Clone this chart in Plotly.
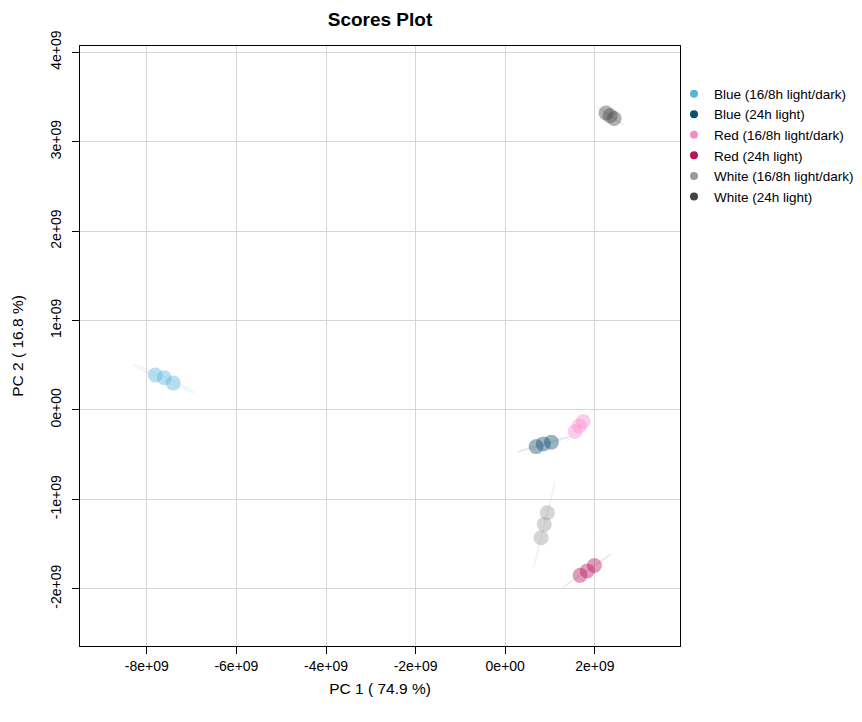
import numpy as np
import plotly.graph_objects as go

groups = ["Blue (16/8h light/dark)", "Blue (24h light)", "Red (16/8h light/dark)",
          "Red (24h light)", "White (16/8h light/dark)", "White (24h light)"]
colors = ["#5AB4DC", "#0E4F6E", "#F78CCB", "#B4155E", "#9A9A9A", "#444444"]

pc1_blue_ld = [-7.81e9, -7.61e9, -7.41e9]
pc2_blue_ld = [0.39e9, 0.36e9, 0.30e9]
pc1_blue_24 = [0.69e9, 0.85e9, 1.03e9]
pc2_blue_24 = [-0.41e9, -0.38e9, -0.36e9]
pc1_red_ld = [1.56e9, 1.65e9, 1.74e9]
pc2_red_ld = [-0.24e9, -0.18e9, -0.13e9]
pc1_red_24 = [1.67e9, 1.83e9, 1.99e9]
pc2_red_24 = [-1.85e9, -1.80e9, -1.74e9]
pc1_white_ld = [0.94e9, 0.87e9, 0.80e9]
pc2_white_ld = [-1.15e9, -1.28e9, -1.43e9]
pc1_white_24 = [2.25e9, 2.34e9, 2.43e9]
pc2_white_24 = [3.32e9, 3.29e9, 3.26e9]

pc1 = [pc1_blue_ld, pc1_blue_24, pc1_red_ld, pc1_red_24, pc1_white_ld, pc1_white_24]
pc2 = [pc2_blue_ld, pc2_blue_24, pc2_red_ld, pc2_red_24, pc2_white_ld, pc2_white_24]

x_ticks = [-8e9, -6e9, -4e9, -2e9, 0, 2e9]
x_ticklabels = ["-8e+09", "-6e+09", "-4e+09", "-2e+09", "0e+00", "2e+09"]
y_ticks = [-2e9, -1e9, 0, 1e9, 2e9, 3e9, 4e9]
y_ticklabels = ["-2e+09", "-1e+09", "0e+00", "1e+09", "2e+09", "3e+09", "4e+09"]

FONT = "Liberation Sans, Arial"
W, H = 854, 714  # page body has an 8px margin


def hex_rgba(h, a):
    h = h.lstrip("#")
    return "rgba(%d,%d,%d,%.2f)" % (int(h[0:2], 16), int(h[2:4], 16), int(h[4:6], 16), a)


def ellipse(xs, ys, k=3.4, n=100):
    xs = np.asarray(xs); ys = np.asarray(ys)
    c = np.cov(np.vstack([xs, ys]))
    vals, vecs = np.linalg.eigh(c)
    vals = np.clip(vals, 0, None)
    t = np.linspace(0, 2 * np.pi, n)
    circ = np.vstack([np.cos(t), np.sin(t)])
    pts = vecs @ (np.sqrt(vals)[:, None] * k * circ)
    return xs.mean() + pts[0], ys.mean() + pts[1]


fig = go.Figure()

for g, col, xs, ys in zip(groups, colors, pc1, pc2):
    ex, ey = ellipse(xs, ys)
    fig.add_trace(go.Scatter(x=ex, y=ey, mode="lines", fill="toself",
                             fillcolor=hex_rgba(col, 0.07),
                             line=dict(color=hex_rgba(col, 0.09), width=1),
                             showlegend=False, hoverinfo="skip"))

for g, col, xs, ys in zip(groups, colors, pc1, pc2):
    fig.add_trace(go.Scatter(x=xs, y=ys, mode="markers", name=g, showlegend=False,
                             marker=dict(size=15, color=hex_rgba(col, 0.42),
                                         line=dict(width=0))))

for g, col in zip(groups, colors):
    fig.add_trace(go.Scatter(x=[None], y=[None], mode="markers", name=g,
                             marker=dict(size=8, color=col)))

axis_common = dict(showgrid=True, gridcolor="#D6D6D6", gridwidth=1, zeroline=False,
                   showline=True, linecolor="black", linewidth=1, mirror=True,
                   ticks="outside", ticklen=7, tickcolor="black", automargin=False,
                   tickfont=dict(family=FONT, size=14, color="black"))

fig.update_layout(
    width=W, height=H,
    paper_bgcolor="white", plot_bgcolor="white",
    margin=dict(l=72, r=182, t=38, b=76, autoexpand=False),
    title=dict(text="<b>Scores Plot</b>", x=372 / W, xanchor="center",
               yref="container", y=1 - 11 / H, yanchor="middle",
               font=dict(family=FONT, size=19, color="black")),
    xaxis=dict(range=[-9.49e9, 3.9e9], tickvals=x_ticks, ticktext=x_ticklabels,
               ticklabelstandoff=0,
               title=dict(text="PC 1 ( 74.9 %)", standoff=10,
                          font=dict(family=FONT, size=15.5, color="black")),
               **axis_common),
    yaxis=dict(range=[-2.64e9, 4.07e9], tickvals=y_ticks, ticktext=y_ticklabels, tickangle=-90,
               ticklabelstandoff=5,
               title=dict(text="PC 2 ( 16.8 %)", standoff=20,
                          font=dict(family=FONT, size=15.5, color="black")),
               **axis_common),
    legend=dict(x=0.990, y=0.946, xanchor="left", yanchor="top", bgcolor="rgba(0,0,0,0)",
                font=dict(family=FONT, size=13.5, color="black"),
                itemwidth=30, tracegroupgap=0),
    showlegend=True,
)

fig.write_html("out.html")
